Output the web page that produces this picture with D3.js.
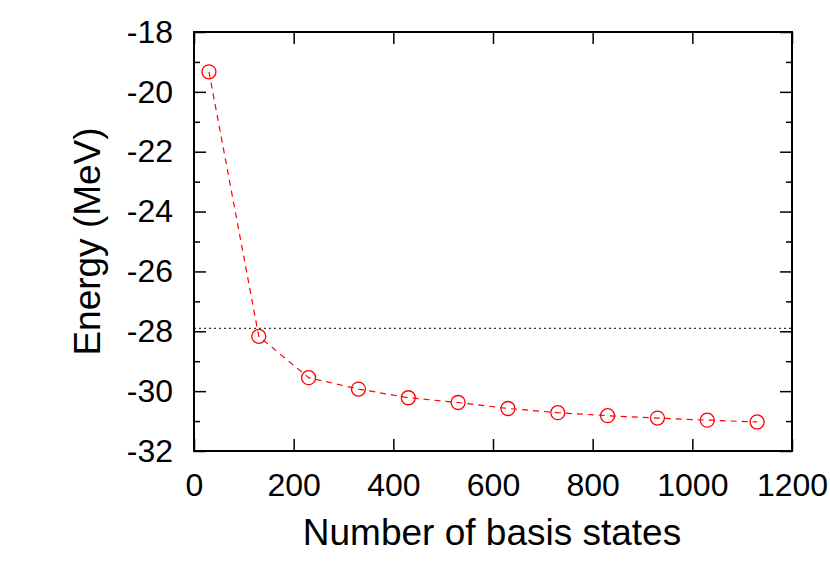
<!DOCTYPE html>
<html><head><meta charset="utf-8">
<script src="https://cdn.jsdelivr.net/npm/d3@7"></script>
<style>body{margin:0;background:#fff}</style>
</head><body>
<script>
// data
const basisStates = [30, 130, 230, 330, 430, 530, 630, 730, 830, 930, 1030, 1130];
const energies = [-19.33, -28.17, -29.55, -29.93, -30.22, -30.38, -30.58, -30.72, -30.82, -30.9, -30.97, -31.03];
const refEnergy = -27.9;
const xTicks = [0, 200, 400, 600, 800, 1000, 1200];
const yTicks = [-18, -20, -22, -24, -26, -28, -30, -32];
const yMinor = [-19, -21, -23, -25, -27, -29, -31];

const canvWidth = 830, canvHeight = 581;
const svg = d3.select("body").append("svg")
    .attr("width", canvWidth).attr("height", canvHeight)
    .style("font-family", "'Liberation Sans', Arial, sans-serif");

const margin = { top: 32, right: 38, bottom: 130, left: 194 };
const width = canvWidth - margin.left - margin.right;
const height = canvHeight - margin.top - margin.bottom;
const g = svg.append("g").attr("transform", `translate(${margin.left},${margin.top})`);

const xScale = d3.scaleLinear().domain([0, 1200]).range([0, width]);
const yScale = d3.scaleLinear().domain([-32, -18]).range([height, 0]);

// ticks on all four sides
function ticks(sel) {
    sel.selectAll("line").attr("stroke", "#000").attr("stroke-width", 1.5);
    sel.select(".domain").remove();
    sel.selectAll("text").attr("font-size", 32).attr("fill", "#000");
}
g.append("g").attr("transform", `translate(0,${height})`)
    .call(d3.axisBottom(xScale).tickValues(xTicks).tickSize(-12).tickPadding(22).tickFormat(d3.format("d")))
    .call(ticks);
g.append("g").call(d3.axisTop(xScale).tickValues(xTicks).tickSize(-12).tickFormat(""))
    .call(ticks);
g.append("g")
    .call(d3.axisLeft(yScale).tickValues(yTicks).tickSize(-12).tickPadding(21))
    .call(ticks);
g.append("g").attr("transform", `translate(${width},0)`)
    .call(d3.axisRight(yScale).tickValues(yTicks).tickSize(-12).tickFormat(""))
    .call(ticks);
g.append("g").call(d3.axisLeft(yScale).tickValues(yMinor).tickSize(-6).tickFormat("")).call(ticks);
g.append("g").attr("transform", `translate(${width},0)`)
    .call(d3.axisRight(yScale).tickValues(yMinor).tickSize(-6).tickFormat("")).call(ticks);
g.selectAll(".tick text").text(function () { return this.textContent.replace("−", "-"); });

// frame
g.append("rect").attr("width", width).attr("height", height)
    .attr("fill", "none").attr("stroke", "#000").attr("stroke-width", 2);

// reference line
g.append("line")
    .attr("x1", 0).attr("x2", width)
    .attr("y1", yScale(refEnergy)).attr("y2", yScale(refEnergy))
    .attr("stroke", "#000").attr("stroke-width", 1).attr("stroke-dasharray", "2,3");

const pts = basisStates.map((d, i) => [d, energies[i]]);
g.append("path").datum(pts)
    .attr("fill", "none").attr("stroke", "#f00").attr("stroke-width", 1.2)
    .attr("stroke-dasharray", "6,5")
    .attr("d", d3.line().x(d => xScale(d[0])).y(d => yScale(d[1])));
g.selectAll("circle").data(pts).enter().append("circle")
    .attr("cx", d => xScale(d[0])).attr("cy", d => yScale(d[1]))
    .attr("r", 7).attr("fill", "none").attr("stroke", "#f00").attr("stroke-width", 1.3);

// labels
svg.append("text")
    .attr("x", 492).attr("y", 545)
    .attr("text-anchor", "middle").attr("font-size", 37)
    .text("Number of basis states");
svg.append("text")
    .attr("transform", `translate(100,${margin.top + height / 2}) rotate(-90)`)
    .attr("text-anchor", "middle").attr("font-size", 37)
    .text("Energy (MeV)");
</script>
</body></html>
